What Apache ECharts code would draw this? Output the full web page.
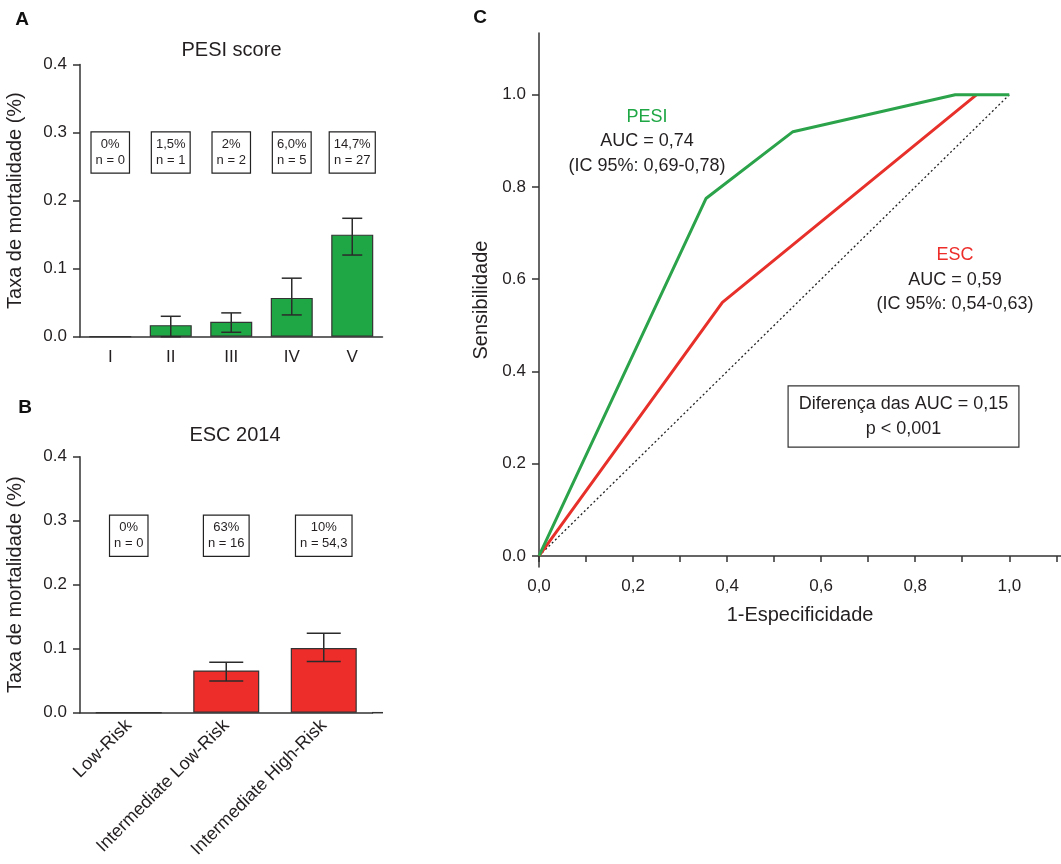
<!DOCTYPE html>
<html><head><meta charset="utf-8">
<script src="https://cdn.jsdelivr.net/npm/echarts@6/dist/echarts.min.js"></script>
<style>html,body{margin:0;padding:0;background:#fff}#c{width:1061px;height:864px}</style>
</head><body><div id="c"></div>
<script>
// ---- Panel A: PESI score ----
const pesiCategories = ['I', 'II', 'III', 'IV', 'V'];
const pesiRate = [0, 0.017, 0.022, 0.057, 0.150];
const pesiLow  = [0, 0, 0.0065, 0.032, 0.120];
const pesiHigh = [0, 0.030, 0.035, 0.086, 0.174];
const pesiPct  = ['0%', '1,5%', '2%', '6,0%', '14,7%'];
const pesiN    = ['n = 0', 'n = 1', 'n = 2', 'n = 5', 'n = 27'];

// ---- Panel B: ESC 2014 ----
const escCategories = ['Low-Risk', 'Intermediate Low-Risk', 'Intermediate High-Risk'];
const escRate = [0, 0.066, 0.101];
const escLow  = [0, 0.0495, 0.080];
const escHigh = [0, 0.079, 0.124];
const escPct  = ['0%', '63%', '10%'];
const escN    = ['n = 0', 'n = 16', 'n = 54,3'];

// ---- Panel C: ROC curves ----
const rocPesi = [[0, 0], [0.355, 0.775], [0.54, 0.92], [0.885, 1.0], [1.0, 1.0]];
const rocEsc  = [[0, 0], [0.39, 0.55], [0.93, 1.0]];
const rocRef  = [[0, 0], [1, 1]];
const rocYTicks  = [0, 0.2, 0.4, 0.6, 0.8, 1.0];
const rocXLabels = [0, 0.2, 0.4, 0.6, 0.8, 1.0];
const rocXTicks  = [0, 0.1, 0.2, 0.3, 0.4, 0.5, 0.6, 0.7, 0.8, 0.9, 1.0, 1.1];

const FONT = '"Liberation Sans", Arial, Helvetica, sans-serif';
const INK = '#231f20';
const GREEN = '#1fa745';
const RED = '#ec2d2a';
const LINE_GREEN = '#2ba34a';
const LINE_RED = '#e8302a';

const chart = echarts.init(document.getElementById('c'), null, {renderer: 'canvas'});

function errorSeries(gridIdx, low, high, capHalf) {
  return {
    type: 'custom', xAxisIndex: gridIdx, yAxisIndex: gridIdx, z: 5, silent: true,
    data: low.map((l, i) => [i, l, high[i]]),
    encode: {x: 0, y: [1, 2]},
    renderItem: function (params, api) {
      const i = api.value(0), lo = api.value(1), hi = api.value(2);
      if (hi <= lo) return null;
      const t = api.coord([i, hi]), b = api.coord([i, lo]);
      const st = {stroke: '#2b2b2b', lineWidth: 1.5};
      return {type: 'group', children: [
        {type: 'line', shape: {x1: t[0], y1: t[1], x2: b[0], y2: b[1]}, style: st},
        {type: 'line', shape: {x1: t[0] - capHalf, y1: t[1], x2: t[0] + capHalf, y2: t[1]}, style: st},
        {type: 'line', shape: {x1: b[0] - capHalf, y1: b[1], x2: b[0] + capHalf, y2: b[1]}, style: st}
      ]};
    }
  };
}

function boxSeries(gridIdx, pct, n, yLevel) {
  return {
    type: 'scatter', xAxisIndex: gridIdx, yAxisIndex: gridIdx, z: 6, silent: true,
    symbolSize: 1, itemStyle: {color: 'rgba(0,0,0,0)', opacity: 1},
    data: pct.map((p, i) => [i, yLevel]),
    label: {
      show: true, position: 'inside',
      formatter: (p) => pct[p.dataIndex] + '\n' + n[p.dataIndex],
      fontFamily: FONT, fontSize: 13, lineHeight: 16, color: INK,
      padding: [4, 4, 4, 4], borderColor: '#222', borderWidth: 1.2,
      backgroundColor: '#fff', align: 'center', verticalAlign: 'middle'
    }
  };
}

const barYAxis = (gridIdx) => ({
  type: 'value', gridIndex: gridIdx, min: 0, max: 0.4, interval: 0.1,
  name: 'Taxa de mortalidade (%)', nameLocation: 'middle', nameGap: 55,
  nameTextStyle: {fontFamily: FONT, fontSize: 20, color: INK},
  axisLine: {show: true, lineStyle: {color: '#333', width: 1.5}},
  axisTick: {show: true, length: 7, lineStyle: {color: '#333', width: 1.5}},
  axisLabel: {fontFamily: FONT, fontSize: 17, color: INK, margin: 13, formatter: v => v.toFixed(1)},
  splitLine: {show: false}
});

const option = {
  animation: false,
  backgroundColor: '#fff',
  grid: [
    {left: 80, top: 64.5, width: 302.5, height: 272.2},
    {left: 80, top: 456.7, width: 292.5, height: 256},
    {left: 539, top: 33, width: 522, height: 534}
  ],
  xAxis: [
    {
      type: 'category', gridIndex: 0, data: pesiCategories,
      axisLine: {lineStyle: {color: '#333', width: 1.5}},
      axisTick: {alignWithLabel: true, length: 7, lineStyle: {color: '#333', width: 1.5}},
      axisLabel: {fontFamily: FONT, fontSize: 17, color: INK, margin: 12}
    },
    {
      type: 'category', gridIndex: 1, data: escCategories,
      axisLine: {lineStyle: {color: '#333', width: 1.5}},
      axisTick: {alignWithLabel: true, length: 7, lineStyle: {color: '#333', width: 1.5}},
      axisLabel: {fontFamily: FONT, fontSize: 18, color: INK, margin: 10, rotate: 45, interval: 0}
    },
    {
      type: 'value', gridIndex: 2, min: 0, max: 1.11,
      name: '1-Especificidade', nameLocation: 'middle', nameGap: 38,
      nameTextStyle: {fontFamily: FONT, fontSize: 20, color: INK},
      axisLine: {lineStyle: {color: '#333', width: 1.5}},
      axisTick: {show: true, length: 6, customValues: rocXTicks, lineStyle: {color: '#333', width: 1.5}},
      axisLabel: {fontFamily: FONT, fontSize: 17, color: INK, margin: 11, customValues: rocXLabels,
        formatter: v => v.toFixed(1).replace('.', ',')},
      splitLine: {show: false}
    }
  ],
  yAxis: [
    barYAxis(0),
    barYAxis(1),
    {
      type: 'value', gridIndex: 2, min: -0.024, max: 1.134,
      name: 'Sensibilidade', nameLocation: 'middle', nameGap: 48,
      nameTextStyle: {fontFamily: FONT, fontSize: 20, color: INK},
      axisLine: {show: true, lineStyle: {color: '#333', width: 1.5}},
      axisTick: {show: true, length: 7, customValues: rocYTicks, lineStyle: {color: '#333', width: 1.5}},
      axisLabel: {fontFamily: FONT, fontSize: 17, color: INK, margin: 13, customValues: rocYTicks,
        formatter: v => v.toFixed(1)},
      splitLine: {show: false}
    }
  ],
  series: [
    {
      type: 'bar', xAxisIndex: 0, yAxisIndex: 0, data: pesiRate, barWidth: 42,
      itemStyle: {color: GREEN, borderColor: '#333', borderWidth: 1.2}
    },
    errorSeries(0, pesiLow, pesiHigh, 10),
    boxSeries(0, pesiPct, pesiN, 0.2706),
    {
      type: 'bar', xAxisIndex: 1, yAxisIndex: 1, data: escRate, barWidth: 66,
      itemStyle: {color: RED, borderColor: '#333', borderWidth: 1.2}
    },
    errorSeries(1, escLow, escHigh, 17),
    boxSeries(1, escPct, escN, 0.2764),
    {
      type: 'line', xAxisIndex: 2, yAxisIndex: 2, data: rocRef, showSymbol: false, silent: true,
      lineStyle: {color: '#222', width: 1.3, type: [2, 2.5]}
    },
    {
      type: 'line', xAxisIndex: 2, yAxisIndex: 2, data: rocEsc, showSymbol: false, silent: true,
      lineStyle: {color: LINE_RED, width: 3}
    },
    {
      type: 'line', xAxisIndex: 2, yAxisIndex: 2, data: rocPesi, showSymbol: false, silent: true,
      lineStyle: {color: LINE_GREEN, width: 3}
    }
  ],
  graphic: [
    {type: 'text', x: 22, y: 20, style: {text: 'A', font: 'bold 19px ' + FONT, fill: '#111', align: 'center', verticalAlign: 'middle'}},
    {type: 'text', x: 25, y: 408, style: {text: 'B', font: 'bold 19px ' + FONT, fill: '#111', align: 'center', verticalAlign: 'middle'}},
    {type: 'text', x: 480, y: 18, style: {text: 'C', font: 'bold 19px ' + FONT, fill: '#111', align: 'center', verticalAlign: 'middle'}},
    {type: 'text', x: 231.5, y: 50, style: {text: 'PESI score', font: '20px ' + FONT, fill: INK, align: 'center', verticalAlign: 'middle'}},
    {type: 'text', x: 235, y: 435, style: {text: 'ESC 2014', font: '20px ' + FONT, fill: INK, align: 'center', verticalAlign: 'middle'}},
    {type: 'text', x: 647, y: 117, style: {text: 'PESI', font: '18px ' + FONT, fill: GREEN, align: 'center', verticalAlign: 'middle'}},
    {type: 'text', x: 647, y: 141.5, style: {text: 'AUC = 0,74', font: '18px ' + FONT, fill: INK, align: 'center', verticalAlign: 'middle'}},
    {type: 'text', x: 647, y: 166, style: {text: '(IC 95%: 0,69-0,78)', font: '18px ' + FONT, fill: INK, align: 'center', verticalAlign: 'middle'}},
    {type: 'text', x: 955, y: 255, style: {text: 'ESC', font: '18px ' + FONT, fill: RED, align: 'center', verticalAlign: 'middle'}},
    {type: 'text', x: 955, y: 280, style: {text: 'AUC = 0,59', font: '18px ' + FONT, fill: INK, align: 'center', verticalAlign: 'middle'}},
    {type: 'text', x: 955, y: 304, style: {text: '(IC 95%: 0,54-0,63)', font: '18px ' + FONT, fill: INK, align: 'center', verticalAlign: 'middle'}},
    {type: 'text', x: 903.5, y: 416.5, style: {
      text: 'Diferença das AUC = 0,15\np < 0,001', font: '18px ' + FONT, fill: INK,
      align: 'center', verticalAlign: 'middle', lineHeight: 25,
      padding: [5, 10, 5, 10], borderColor: '#333', borderWidth: 1.2, backgroundColor: '#fff'
    }},
    {type: 'line', shape: {x1: 372, y1: 712.7, x2: 383, y2: 712.7}, style: {stroke: '#333', lineWidth: 1.5}}
  ]
};
chart.setOption(option);
</script></body></html>
